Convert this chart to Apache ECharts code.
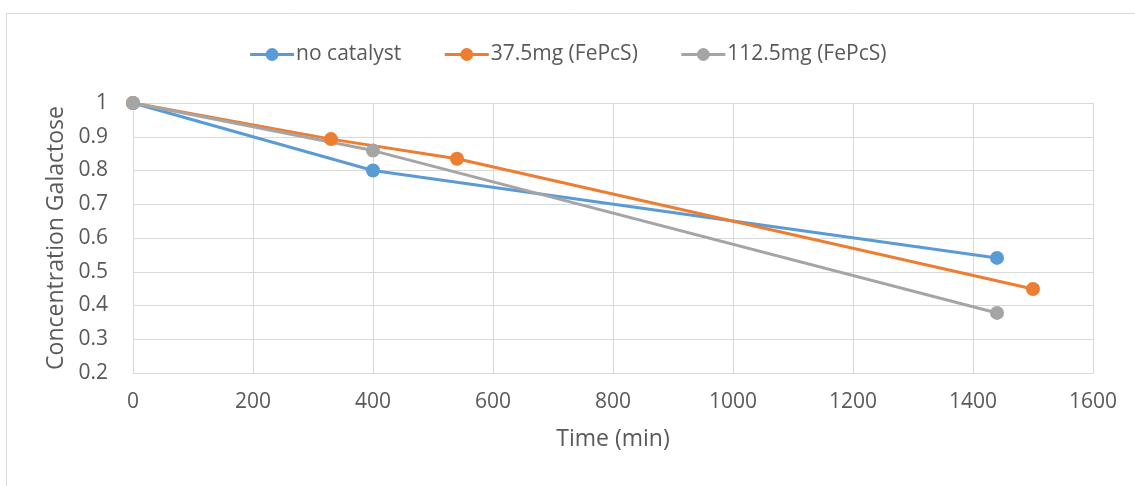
<!DOCTYPE html>
<html>
<head>
<meta charset="utf-8">
<script src="https://cdn.jsdelivr.net/npm/echarts@6/dist/echarts.min.js"></script>
<style>
html,body{margin:0;padding:0;background:#fff;}
#c{width:1135px;height:486px;}
</style>
</head>
<body>
<div id="c"></div>
<script>
var seriesNames = ['no catalyst', '37.5mg (FePcS)', '112.5mg (FePcS)'];
var noCatalyst = [[0, 1], [400, 0.8], [1440, 0.541]];
var fe375 = [[0, 1], [330, 0.893], [540, 0.835], [1500, 0.449]];
var fe1125 = [[0, 1], [400, 0.859], [1440, 0.378]];
var colors = ['#5b9bd5', '#ed7d31', '#a5a5a5'];
var xTicks = [0, 1600, 200];
var yTicks = [0.2, 1, 0.1];

var chart = echarts.init(document.getElementById('c'));
var font = '"Open Sans", "Liberation Sans", sans-serif';
function mk(name, data, color) {
  return {
    name: name, type: 'line', data: data,
    symbol: 'circle', symbolSize: 14,
    lineStyle: {width: 3, color: color},
    itemStyle: {color: color},
    emphasis: {disabled: true}
  };
}
chart.setOption({
  animation: false,
  color: colors,
  textStyle: {fontFamily: font, color: '#595959'},
  graphic: [
    {type: 'line', shape: {x1: 6.5, y1: 13.5, x2: 1135, y2: 13.5}, style: {stroke: '#d9d9d9', lineWidth: 1}},
    {type: 'line', shape: {x1: 6.5, y1: 13.5, x2: 6.5, y2: 486}, style: {stroke: '#d9d9d9', lineWidth: 1}}
  ],
  legend: {
    top: 39, left: 'center',
    itemWidth: 44, itemHeight: 16, itemGap: 42,
    lineStyle: {width: 3},
    textStyle: {fontSize: 21, color: '#595959', fontFamily: font, padding: [0, 0, 0, -3]},
    data: seriesNames
  },
  grid: {left: 133, right: 42, top: 103, bottom: 113},
  xAxis: {
    type: 'value', min: xTicks[0], max: xTicks[1], interval: xTicks[2],
    name: 'Time (min)', nameLocation: 'middle', nameGap: 55,
    nameTextStyle: {fontSize: 23, color: '#595959'},
    axisLine: {show: true, lineStyle: {color: '#d9d9d9', width: 1}},
    axisTick: {show: false},
    axisLabel: {fontSize: 21, color: '#595959', margin: 19,
      formatter: function (v) { return String(v); }},
    splitLine: {show: true, lineStyle: {color: '#d9d9d9', width: 1}}
  },
  yAxis: {
    type: 'value', min: yTicks[0], max: yTicks[1], interval: yTicks[2],
    name: 'Concentration Galactose', nameLocation: 'middle', nameGap: 64,
    nameTextStyle: {fontSize: 23, color: '#595959'},
    axisLine: {show: true, lineStyle: {color: '#d9d9d9', width: 1}},
    axisTick: {show: false},
    axisLabel: {fontSize: 21, color: '#595959', margin: 25,
      formatter: function (v) { return String(Math.round(v * 10) / 10); }},
    splitLine: {show: true, lineStyle: {color: '#d9d9d9', width: 1}}
  },
  series: [
    mk(seriesNames[0], noCatalyst, colors[0]),
    mk(seriesNames[1], fe375, colors[1]),
    mk(seriesNames[2], fe1125, colors[2])
  ]
});
</script>
</body>
</html>
